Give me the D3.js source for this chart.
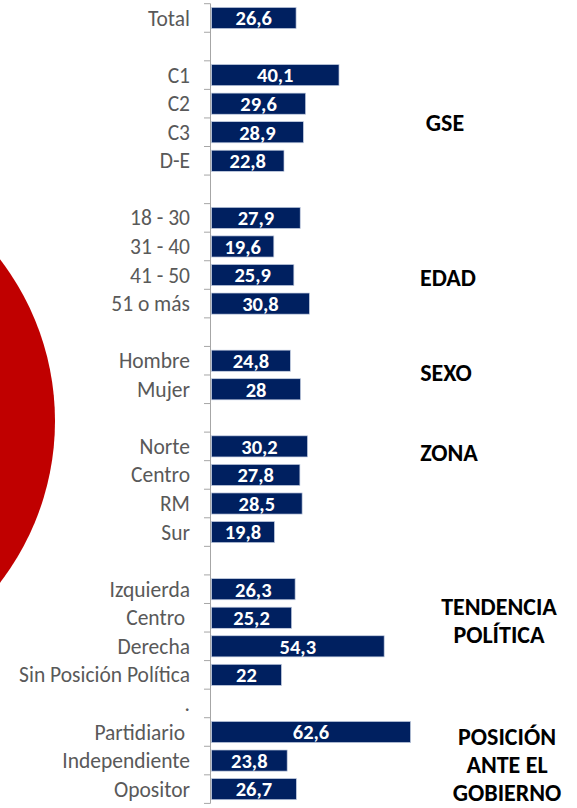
<!DOCTYPE html>
<html lang="es">
<head>
<meta charset="UTF-8">
<title>Total por segmento</title>
<style>
  body, html { margin: 0; padding: 0; background: #fff; overflow: hidden; }
  .cat { font: 21.5px Carlito, Lato, sans-serif; fill: #595959; white-space: pre; }
  .val { font: bold 20.5px Carlito, Lato, sans-serif; fill: #fff; }
  .grp { font: bold 24px Carlito, Lato, sans-serif; fill: #000; }
</style>
</head>
<body>
<div id="chart"></div>
<script src="https://d3js.org/d3.v7.min.js"></script>
<script>
// categories top to bottom, "" = empty spacer row
const categories = ["Total", "",
  "C1", "C2", "C3", "D-E", "",
  "18 - 30", "31 - 40", "41 - 50", "51 o más", "",
  "Hombre", "Mujer", "",
  "Norte", "Centro", "RM", "Sur", "",
  "Izquierda", "Centro ", "Derecha", "Sin Posición Política", ".",
  "Partidiario ", "Independiente", "Opositor"];

const values = [26.6, null,
  40.1, 29.6, 28.9, 22.8, null,
  27.9, 19.6, 25.9, 30.8, null,
  24.8, 28, null,
  30.2, 27.8, 28.5, 19.8, null,
  26.3, 25.2, 54.3, 22, null,
  62.6, 23.8, 26.7];

// group titles: lines + row they sit next to
const groupNames = [["GSE"], ["EDAD"], ["SEXO"], ["ZONA"], ["TENDENCIA", "POLÍTICA"], ["POSICIÓN", "ANTE EL", "GOBIERNO"]];
const groupRows = [3.68, 9.1, 12.43, 15.2, 20.6, 25.17];

const W = 577, H = 808;
const svg = d3.select("#chart").append("svg")
  .attr("width", W).attr("height", H);

// red circle partly off the left edge
svg.append("circle")
  .attr("cx", -210).attr("cy", 421).attr("r", 265)
  .attr("fill", "#c00000");

const rows = d3.range(categories.length);
const y = d3.scaleBand()
  .domain(rows)
  .range([3.7, 803.4])
  .paddingInner(0.26)
  .paddingOuter(0.13);

const x = d3.scaleLinear().domain([0, 100]).range([211.5, 529.5]);

// axis line + ticks at band boundaries
const axis = svg.append("g");
axis.append("line")
  .attr("x1", 210.5).attr("x2", 210.5)
  .attr("y1", 3.7).attr("y2", 803.4)
  .attr("stroke", "#a6a6a6").attr("stroke-width", 1);

const step = y.step();
axis.selectAll(".tk")
  .data(d3.range(categories.length + 1))
  .enter().append("line")
  .attr("x1", 204).attr("x2", 210.5)
  .attr("y1", i => 3.7 + i * step)
  .attr("y2", i => 3.7 + i * step)
  .attr("stroke", "#a6a6a6").attr("stroke-width", 1);

// category labels
svg.selectAll(".cat")
  .data(rows)
  .enter().append("text")
  .attr("class", "cat")
  .attr("x", 190)
  .attr("y", i => y(i) + y.bandwidth() / 2)
  .attr("dy", "0.35em")
  .attr("text-anchor", "end")
  .text(i => categories[i]);

const withVal = rows.filter(i => values[i] != null);

// bars
svg.selectAll(".bar")
  .data(withVal)
  .enter().append("rect")
  .attr("class", "bar")
  .attr("x", x(0))
  .attr("y", i => y(i))
  .attr("width", i => x(values[i]) - x(0))
  .attr("height", y.bandwidth())
  .attr("fill", "#002060")
  .attr("stroke", "#c5cfe2")
  .attr("stroke-width", 0.7);

// value labels
svg.selectAll(".val")
  .data(withVal)
  .enter().append("text")
  .attr("class", "val")
  .attr("x", i => (x(0) + x(values[i])) / 2)
  .attr("y", i => y(i) + y.bandwidth() / 2)
  .attr("dy", "0.36em")
  .attr("text-anchor", "middle")
  .text(i => String(values[i]).replace(".", ","));

// group titles on the right
const groupX = [445, 448, 446, 449, 499, 507];
groupNames.forEach((lines, g) => {
  const t = svg.append("text")
    .attr("class", "grp")
    .attr("text-anchor", "middle")
    .attr("x", groupX[g])
    .attr("y", y(0) + groupRows[g] * step + y.bandwidth() / 2);
  lines.forEach((ln, k) => {
    t.append("tspan")
      .attr("x", groupX[g])
      .attr("dy", k === 0 ? "0.35em" : "1.16em")
      .text(ln);
  });
});
</script>
</body>
</html>
